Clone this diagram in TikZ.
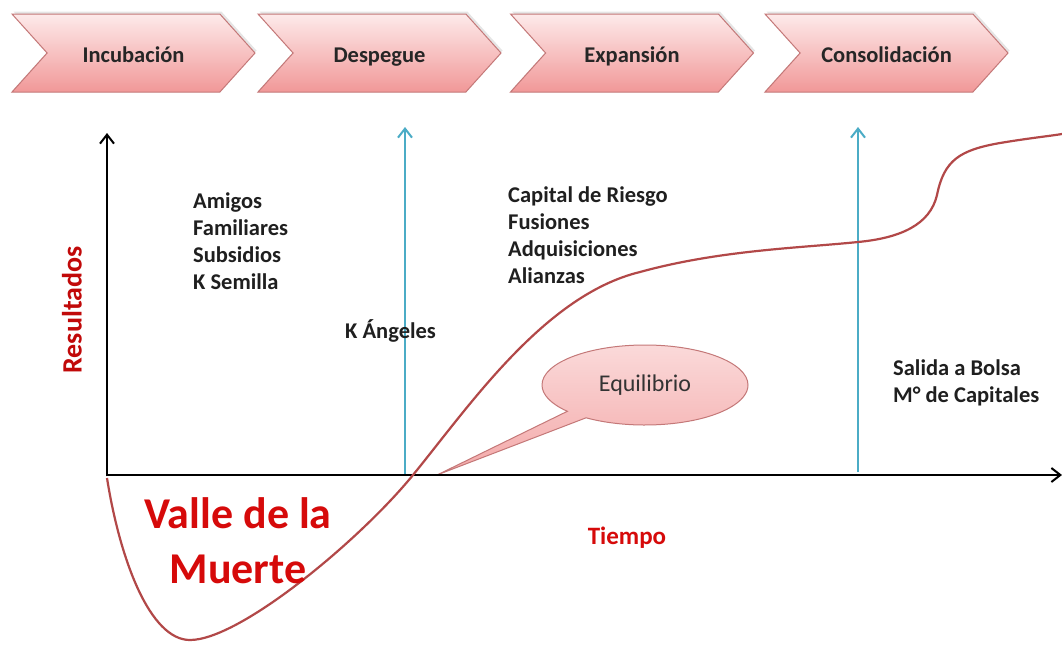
\documentclass[tikz,border=0pt]{standalone}
\usepackage{fontspec}
\setmainfont{Carlito}
\usetikzlibrary{shapes.symbols,shapes.callouts,shadows,arrows.meta}
\definecolor{chevtop}{RGB}{253,234,234}
\definecolor{chevbot}{RGB}{241,152,152}
\definecolor{chevline}{RGB}{196,120,120}
\definecolor{curvecol}{RGB}{178,72,72}
\definecolor{aqua}{RGB}{75,172,198}
\definecolor{redtxt}{RGB}{214,10,10}
\tikzset{
  chev/.style={signal, signal to=east, signal from=west, signal pointer angle=96,
    minimum width=243, minimum height=78, inner sep=0, draw=chevline, line width=1,
    top color=chevtop, bottom color=chevbot, text height=21, text depth=2.5,
    drop shadow={opacity=0.2, shadow xshift=1.5, shadow yshift=-2.5},
    font=\bfseries\fontsize{22.5}{26}\selectfont, text=black!85},
  lbl/.style={inner sep=0, align=left, font=\bfseries\fontsize{22.5}{27}\selectfont, text=black!88},
  axis/.style={line width=2.8, black, -{Straight Barb[length=9,width=14,line width=2]}},
  upar/.style={line width=2.6, aqua, -{Straight Barb[length=9,width=14,line width=2]}},
}
\begin{document}
\begin{tikzpicture}[x=1pt,y=-1pt]
\useasboundingbox[fill=white] (0,0) rectangle (1062,648);
% chevrons
\node[chev] (c1) at (133.5,53) {Incubación};
\node[chev] (c2) at (379.5,53) {Despegue};
\node[chev] (c3) at (632,53) {Expansión};
\node[chev] (c4) at (886.5,53) {Consolidación};
% axes
\coordinate (O) at (107,475);
\coordinate (Ytop) at (107,133);
\coordinate (Xend) at (1062,475);
\coordinate (b1s) at (405,475);
\coordinate (b1e) at (405,127);
\coordinate (b2s) at (858,472);
\coordinate (b2e) at (858,127);
\draw[upar] (b1s) -- (b1e);
\draw[upar] (b2s) -- (b2e);
% callout
\node[ellipse callout, draw=chevline, line width=1, top color=chevtop!80!chevbot, bottom color=chevbot!80!chevtop,
  minimum width=206, minimum height=80, callout absolute pointer={(437,475)}, callout pointer arc=14,
  font=\fontsize{24}{28}\selectfont, text=black!80] (eq) at (645,385) {Equilibrio};
\draw[axis] (O) -- (Xend);
\draw[axis] ([yshift=-1.4]O) -- (Ytop);
% curve
\coordinate (p0) at (107,478);
\coordinate (p1) at (190,640);
\coordinate (p2) at (413,475);
\coordinate (p3) at (640,272);
\coordinate (p4) at (858,242);
\coordinate (p5) at (937,195);
\coordinate (p6) at (1000,143);
\coordinate (p7) at (1062,134);
\draw[curvecol, line width=2.2]
  (p0) .. controls (120,560) and (150,640) .. (p1)
  .. controls (240,640) and (360,540) .. (p2)
  .. controls (470,405) and (545,295) .. (p3)
  .. controls (720,250) and (800,248) .. (p4)
  .. controls (900,238) and (930,225) .. (p5)
  .. controls (944,160) and (960,150) .. (p6)
  .. controls (1030,138) and (1050,136) .. (p7);
% labels
\node[lbl, anchor=north west] (t1) at (193,193) {Amigos\\Familiares\\Subsidios\\K Semilla};
\node[lbl, anchor=north west] (t2) at (508,187) {Capital de Riesgo\\Fusiones\\Adquisiciones\\Alianzas};
\node[lbl, anchor=base west] (t3) at (345,338) {K Ángeles};
\node[lbl, anchor=north west] (t4) at (893,360) {Salida a Bolsa\\M° de Capitales};
\node[inner sep=0, font=\bfseries\fontsize{25}{28}\selectfont, text=redtxt] (tiempo) at (627,538) {Tiempo};
\node[inner sep=0, rotate=90, font=\bfseries\fontsize{28}{30}\selectfont, text=redtxt!90!black] (res) at (72,310) {Resultados};
\node[inner sep=0, align=center, font=\bfseries\fontsize{44}{55}\selectfont, text=redtxt] (valle) at (238,541) {Valle de la\\Muerte};
\end{tikzpicture}
\end{document}
